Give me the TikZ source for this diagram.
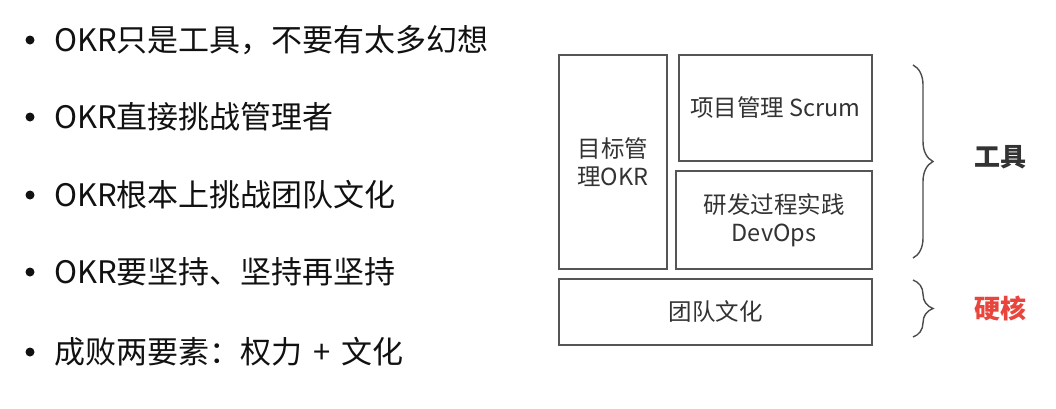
\documentclass[tikz,border=0pt]{standalone}
\usepackage{fontspec}
\setmainfont{Noto Sans CJK SC}
\usetikzlibrary{decorations.pathreplacing}
\definecolor{InkBlack}{HTML}{111111}
\definecolor{SlateGray}{HTML}{333333}
\definecolor{FrameGray}{HTML}{555555}
\definecolor{CoreRed}{HTML}{E8453C}
\newcommand{\BulletFont}{\fontsize{31pt}{36pt}\selectfont}
\newcommand{\BoxFont}{\fontsize{23.5pt}{28pt}\selectfont}
\newcommand{\TagFont}{\bfseries\fontsize{26pt}{30pt}\selectfont}
\tikzset{
  blockbox/.style={draw=FrameGray, line width=1.4pt, text=SlateGray,
    font=\BoxFont, align=center, inner sep=0pt},
  bracepath/.style={draw=FrameGray!90!black, line width=1.4pt,
    decorate, decoration={brace, amplitude=20pt}},
  tagtext/.style={font=\TagFont, text=SlateGray},
  itemdot/.style={circle, fill=InkBlack, minimum size=9pt, inner sep=0pt},
  itemtext/.style={anchor=west, font=\BulletFont, text=InkBlack, inner sep=0pt}
}

\begin{document}
\begin{tikzpicture}[x=1pt, y=-1pt]
  \useasboundingbox (0,0) rectangle (1056,408);
  % left list
  \foreach \txt/\ypos [count=\i] in {OKR只是工具，不要有太多幻想/40,
      OKR直接挑战管理者/117, OKR根本上挑战团队文化/195,
      OKR要坚持、坚持再坚持/272,
      成败两要素：权力\hspace{11pt}+\hspace{11pt}文化/352}{
    \node[itemdot] (dot\i) at (30,\ypos) {};
    \node[itemtext] (item\i) at (54,\ypos) {\txt};
  }
  % blocks
  \node[blockbox, minimum width=108, minimum height=214] (okr) at (613,162)
    {目标管\\理OKR};
  \node[blockbox, minimum width=193, minimum height=106] (scrum) at (775.5,108)
    {项目管理 Scrum};
  \node[blockbox, minimum width=196, minimum height=98] (devops) at (774,220)
    {研发过程实践\\DevOps};
  \node[blockbox, minimum width=313, minimum height=66] (culture) at (715.5,312)
    {团队文化};
  % braces
  \coordinate (toolstop) at (913,65);
  \coordinate (toolsbot) at (913,258);
  \coordinate (coretop) at (913,280);
  \coordinate (corebot) at (913,337);
  \draw[bracepath] (toolstop) -- (toolsbot);
  \draw[bracepath] (coretop) -- (corebot);
  \node[tagtext] (tools) at (1000,157) {工具};
  \node[tagtext, text=CoreRed] (core) at (1000,308) {硬核};
\end{tikzpicture}
\end{document}
